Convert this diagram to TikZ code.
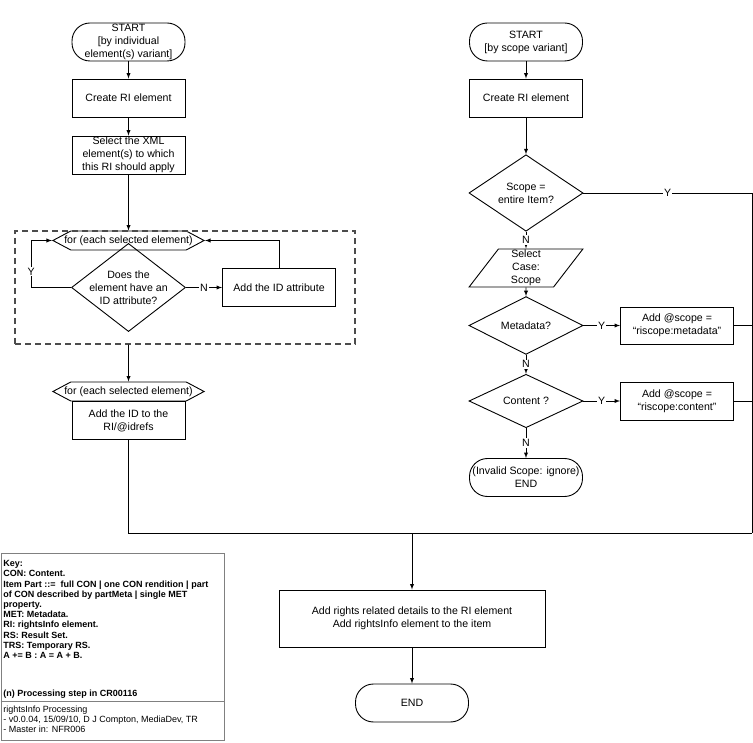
\documentclass[tikz,border=0pt]{standalone}
\usepackage{fontspec}
\setmainfont{Liberation Sans}
\usetikzlibrary{shapes,arrows,positioning}
\newcommand{\flowfont}{\fontsize{10.6}{13}\selectfont}
\newcommand{\keyfont}{\fontsize{9}{10.2}\selectfont}

\begin{document}
\begin{tikzpicture}[x=1pt, y=-1pt, line width=0.9pt, >=latex, font=\flowfont,
     block/.style = {draw, rectangle, minimum width=113pt, minimum height=38pt, align=center, inner sep=1pt},
     term/.style = {draw, rectangle, rounded corners=18pt, minimum width=113pt, minimum height=38pt, align=center, inner sep=1pt},
     decision/.style = {draw, diamond, minimum width=114pt, align=center, inner sep=0pt},
     loophead/.style = {draw, signal, signal to=west and east, signal pointer angle=56, fill=white,
      minimum height=19pt, inner xsep=-6.5pt, inner ysep=0pt},
     io/.style = {draw, trapezium, trapezium left angle=66, trapezium right angle=114,
      trapezium stretches=true, minimum width=114pt, minimum height=38pt, align=center, inner sep=0pt},
     group/.style = {draw=black!70, dash pattern=on 6pt off 4pt, line width=1.1pt,
      minimum width=340pt, minimum height=113pt},
     keybox/.style = {draw=black!50, line width=0.8pt, minimum width=223pt, minimum height=187pt, anchor=north west},
     lbl/.style = {fill=white, inner sep=1pt}
    ]
    \useasboundingbox (0,0) rectangle (753,743);

    % left: by individual element(s)
    \node [term] (start1) at (128.5,42) {START\\{}[by individual\\element(s) variant]};
    \node [block, below of=start1, node distance=56pt] (create1) {Create RI element};
    \node [block, below of=create1, node distance=57pt] (select1) {Select the XML\\element(s) to which\\this RI should apply};
    \node [loophead, below of=select1, node distance=85.5pt] (loop1) {for (each selected element)};
    \node [decision, below of=loop1, node distance=47pt, minimum height=75pt, inner sep=-6pt] (ask1) {Does the\\element have an\\ID attribute?};
    \node [block, right of=ask1, node distance=150.5pt] (addid) {Add the ID attribute};
    \node [group] (idgroup) at (185,287.5) {};
    \node [loophead, below of=ask1, node distance=104pt] (for2) {for (each selected element)};
    \node [block, below=0pt of for2] (idref) {Add the ID to the\\RI/@idrefs};

    % right: by scope
    \node [term] (start2) at (526,42) {START\\{}[by scope variant]};
    \node [block, below of=start2, node distance=56pt] (create2) {Create RI element};
    \node [decision, below of=create2, node distance=95pt, minimum height=56pt] (scope) {Scope =\\entire Item?};
    \node [io, below of=scope, node distance=75pt] (case) {Select\\Case:\\Scope};
    \node [decision, below of=case, node distance=57.5pt, minimum height=37pt] (meta) {Metadata?};
    \node [block, right of=meta, node distance=151pt, minimum height=37pt] (metaset) {Add @scope =\\``riscope:metadata''};
    \node [decision, below of=meta, node distance=75.5pt, minimum height=38pt] (content) {Content ?};
    \node [block, right of=content, node distance=151pt] (contset) {Add @scope =\\``riscope:content''};
    \node [term, below of=content, node distance=76.5pt] (end2) {(Invalid Scope: ignore)\\END};

    % common end
    \coordinate (join) at (412,533);
    \coordinate (rgt) at (752,533);
    \node [block, minimum width=266pt, minimum height=57pt] (final) at (412,618.5) {Add rights related details to the RI element\\Add rightsInfo element to the item};
    \node [term, below of=final, node distance=84.5pt] (end) {END};

    % key
    \node [keybox] (key) at (0.5,553) {};
    \coordinate (keycut) at (0,701);
    \node [anchor=north west, align=left, inner sep=0pt, font=\keyfont\bfseries] (keytxt) at (3,560) {Key:\\CON: Content.\\Item Part ::=\ \ full CON | one CON rendition | part\\of CON described by partMeta | single MET\\property.\\MET: Metadata.\\RI: rightsInfo element.\\RS: Result Set.\\TRS: Temporary RS.\\A += B : A = A + B.};
    \node [anchor=south west, inner sep=0pt, font=\keyfont\bfseries] (steptxt) at (3,699) {(n) Processing step in CR00116};
    \node [anchor=north west, align=left, inner sep=0pt, font=\keyfont] (doctxt) at (3,705.5) {rightsInfo Processing\\- v0.0.04, 15/09/10, D J Compton, MediaDev, TR\\- Master in: NFR006};
    \draw [draw=black!50] (key.west |- keycut) -- (key.east |- keycut);

    \draw[->] (start1) -- (create1);
    \draw[->] (create1) -- (select1);
    \draw[->] (select1) -- (loop1);
    \draw[->] (ask1) -- node [lbl] {N} (addid);
    \draw[->] (addid.north) |- (loop1.east);
    \draw[->] (ask1.west) -- ++(-40pt,0pt) |- node [lbl, pos=0.17] {Y} (loop1.west);
    \draw[->] (for2 |- idgroup.south) -- (for2);
    \draw (idref) |- (rgt);
    \draw[->] (join) -- (final);
    \draw[->] (final) -- (end);

    \draw[->] (start2) -- (create2);
    \draw[->] (create2) -- (scope);
    \draw (scope) -- node [lbl] {Y} (scope -| rgt) -- (rgt);
    \draw[->] (scope) -- node [lbl] {N} (case);
    \draw[->] (case) -- (meta);
    \draw[->] (meta) -- node [lbl] {Y} (metaset);
    \draw (metaset) -- (metaset -| rgt);
    \draw[->] (meta) -- node [lbl] {N} (content);
    \draw[->] (content) -- node [lbl] {Y} (contset);
    \draw (contset) -- (contset -| rgt);
    \draw[->] (content) -- node [lbl] {N} (end2);
\end{tikzpicture}
\end{document}
